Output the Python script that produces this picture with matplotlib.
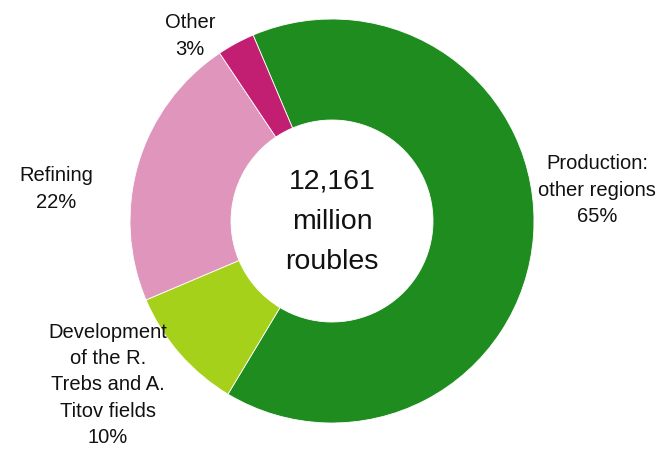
import matplotlib
matplotlib.use("Agg")
import matplotlib.pyplot as plt
from matplotlib import font_manager

# Capital expenditure breakdown
categories = ["Production:\nother regions", "Development\nof the R.\nTrebs and A.\nTitov fields", "Refining", "Other"]
shares = [65, 10, 22, 3]
total_label = "12,161\nmillion\nroubles"
colors = ["#1E8C1E", "#A6D11B", "#E096BC", "#C21E72"]

names = {f.name for f in font_manager.fontManager.ttflist}
family = ["Liberation Sans Narrow"] if "Liberation Sans Narrow" in names else ["Liberation Sans"]
narrow = family[0] == "Liberation Sans Narrow"
plt.rcParams["font.family"] = family + ["DejaVu Sans"]

W, H = 657, 449
cx, cy, R = 332, 221, 202

fig = plt.figure(figsize=(W / 100, H / 100), dpi=100)
ax = fig.add_axes([0, 0, 1, 1])
ax.pie(shares, colors=colors, startangle=113, counterclock=False, radius=1,
       wedgeprops=dict(width=0.5, edgecolor="white", linewidth=0.6))
ax.set_xlim(-cx / R, (W - cx) / R)
ax.set_ylim(-(H - cy) / R, cy / R)
ax.set_aspect("equal")
ax.axis("off")


def px(x, y):
    return (x - cx) / R, (cy - y) / R


fs = 16 if narrow else 14.5
label_pos = [(597, 190), (108, 385), (56, 189), (190, 36)]
for name, val, (x, y) in zip(categories, shares, label_pos):
    ax.text(*px(x, y), f"{name}\n{val}%", ha="center", va="center",
            fontsize=fs, color="#111111", linespacing=1.48)

ax.text(*px(332, 222), total_label, ha="center", va="center",
        fontsize=25 if narrow else 20.5, color="#111111", linespacing=1.7)

fig.savefig("out.png", dpi=100)
